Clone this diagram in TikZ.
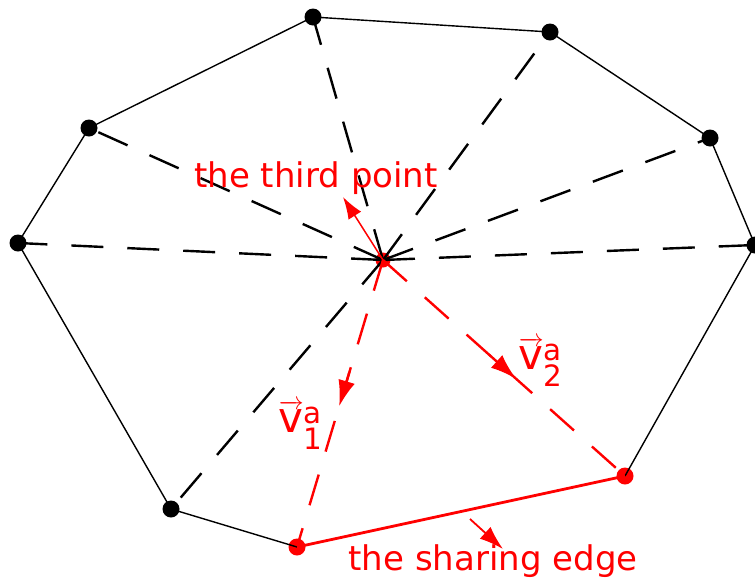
\documentclass[tikz,border=0pt]{standalone}
\usepackage{amsmath}
\usepackage{fontspec}
\setmainfont{DejaVu Sans}
\usepackage{tikz}
\usetikzlibrary{arrows.meta,calc}
\definecolor{EdgeRed}{HTML}{FF0000}

\begin{document}
\begin{tikzpicture}[x=1pt,y=-1pt,
  every node/.style={font=\fontsize{34}{40}\selectfont,text=EdgeRed},
  vertex/.style={circle,fill=black,inner sep=0pt,minimum size=17pt},
  redvertex/.style={vertex,fill=EdgeRed},
  hull/.style={line width=1.4pt},
  spoke/.style={line width=2.4pt,dash pattern=on 32pt off 24pt},
  redspoke/.style={spoke,EdgeRed},
  arr/.style={-{Latex[length=26pt,width=17pt]},EdgeRed,line width=2.4pt}
]
  \useasboundingbox (0,0) rectangle (755,582);

  % vertices of the polygon and the centre point
  \node[vertex] (A) at (313,17) {};
  \node[vertex] (B) at (550,32) {};
  \node[vertex] (C) at (710,138) {};
  \node[vertex] (D) at (755,245) {};
  \node[redvertex] (E) at (625,476) {};
  \node[redvertex] (F) at (297,547) {};
  \node[vertex] (G) at (171,509) {};
  \node[vertex] (H) at (18,243) {};
  \node[vertex] (I) at (89,128) {};
  \node[redvertex,minimum size=15pt] (O) at (383,260) {};

  % spokes from the centre
  \foreach \v in {A,B,C,D,G,H,I}
    \draw[spoke] (O.center) -- (\v.center);
  \draw[redspoke] (O.center) -- (E.center);
  \draw[redspoke] (O.center) -- (F.center);

  % hull
  \draw[hull] (E.center) -- (D.center) -- (C.center) -- (B.center) -- (A.center)
    -- (I.center) -- (H.center) -- (G.center) -- (F.center);
  \draw[hull,EdgeRed,line width=2.8pt] (F.center) -- (E.center);

  % labels
  \coordinate (tp) at (343,197);
  \coordinate (se) at (470,519);
  \coordinate (seend) at (503,549);
  \draw[arr,line width=1.5pt,-{Latex[length=22pt,width=15pt]}] (O.center) -- (tp);
  \draw[arr] ($(O.center)!0.39!(F.center)$) -- ($(O.center)!0.51!(F.center)$);
  \draw[arr] ($(O.center)!0.44!(E.center)$) -- ($(O.center)!0.55!(E.center)$);
  \draw[arr,line width=1.8pt,-{Latex[length=24pt,width=16pt]}] (se) -- (seend);

  \node (third) at (316,178) {the third point};
  \node (share) at (493,561) {the sharing edge};
  \node[font=\fontsize{42}{46}\selectfont] (vone) at (301,425)
    {$\overrightarrow{\text{v}}^{\text{a}}_{\text{1}}$};
  \node[font=\fontsize{42}{46}\selectfont] (vtwo) at (541,362)
    {$\overrightarrow{\text{v}}^{\text{a}}_{\text{2}}$};
\end{tikzpicture}
\end{document}
